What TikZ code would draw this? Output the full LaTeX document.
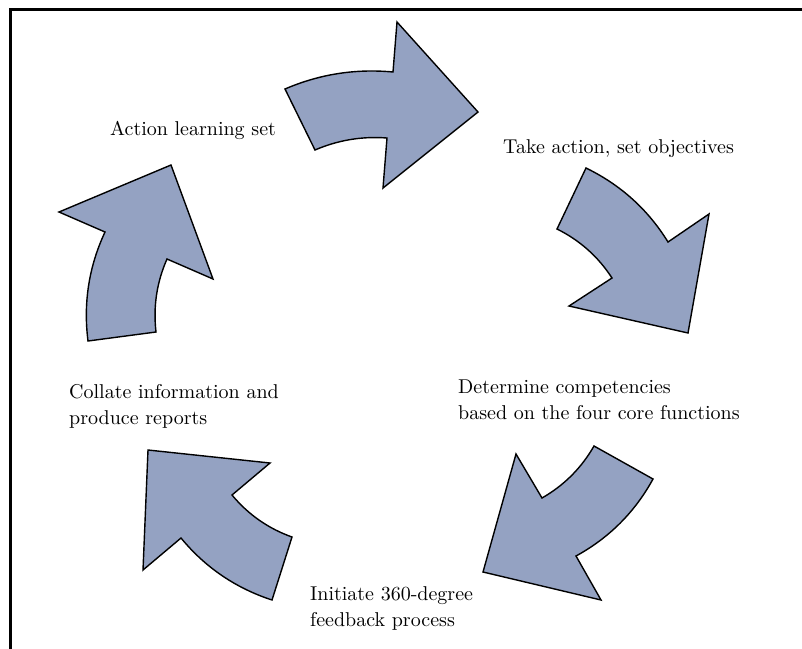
\documentclass[tikz,border=0pt]{standalone}
\usepackage{fontspec}
\setmainfont{lmroman10-regular}[Extension=.otf]
\usepackage{tikz}
\usepackage{xcolor}
\definecolor{arrowblue}{RGB}{148,162,194}

\begin{document}
\begin{tikzpicture}[line cap=round,x=1pt,y=-1pt,
    bigarrow/.style={draw=black,line width=1.4pt,line join=miter,fill=arrowblue},
    steptext/.style={anchor=base west,inner sep=0pt,align=left,font=\fontsize{20}{26}\selectfont}]
                \useasboundingbox (0,0) rectangle (802,648);
                \clip (0,0) rectangle (802,648);
                \draw [line width=3pt] (10,660) -- (10,9.5) -- (815,9.5);
                % the five curved arrows, clockwise from the top
                \draw [bigarrow] (285,89) .. controls (319.6,74.1) and (355.6,68.5) .. (393,72) -- (397,22) -- (478,112) -- (383,188) -- (387,138) .. controls (362,136.1) and (338,140.1) .. (315,150) -- cycle;
                \draw [bigarrow] (586,168) .. controls (620.5,184.8) and (647.9,209.4) .. (668,242) -- (709,214) -- (688,333) -- (569,306) -- (612,278) .. controls (598.2,256.7) and (579.8,240.3) .. (557,229) -- cycle;
                \draw [bigarrow] (576,556) .. controls (609.2,537.8) and (634.8,512.2) .. (653,479) -- (594,446) .. controls (581.4,468) and (564,485.4) .. (542,498) -- (516,454) -- (483,572) -- (601,600) -- cycle;
                \draw [bigarrow] (181,538) .. controls (205.3,567.5) and (235.7,588.1) .. (272,600) -- (292,537) .. controls (268.2,528.5) and (248.2,514.5) .. (232,495) -- (270,463) -- (148,450) -- (143,570) -- cycle;
                \draw [bigarrow] (88,341) .. controls (83.2,303.1) and (88.8,266.7) .. (105,232) -- (59,212) -- (171,165) -- (213,279) -- (167,259) .. controls (156.7,282.3) and (153.1,306.7) .. (156,332) -- cycle;
                % step labels (base is on the last line)
                \node [steptext] (actset) at (110,135) {Action learning set};
                \node [steptext] (takeact) at (503,153) {Take action, set objectives};
                \node [steptext] (determine) at (458,419) {Determine competencies\\based on the four core functions};
                \node [steptext] (initiate) at (310,626) {Initiate 360-degree\\feedback process};
                \node [steptext] (collate) at (69,424) {Collate information and\\produce reports};
\end{tikzpicture}
\end{document}
